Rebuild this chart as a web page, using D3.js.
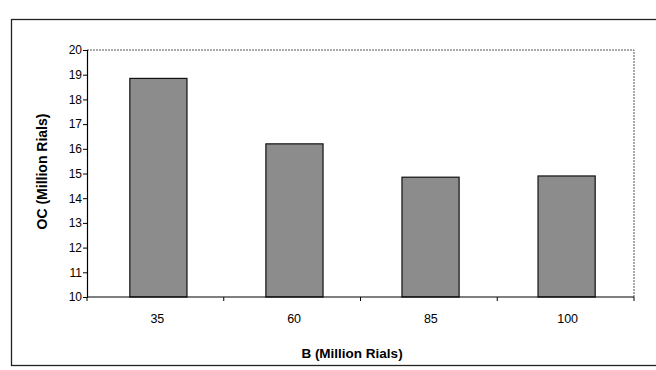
<!DOCTYPE html>
<html>
<head>
<meta charset="utf-8">
<script src="https://cdn.jsdelivr.net/npm/d3@7"></script>
<style>
  html, body { margin: 0; padding: 0; background: #fff; }
  svg { display: block; font-family: "Liberation Sans", Arial, sans-serif; }
</style>
</head>
<body>
<svg id="chart" width="656" height="370"></svg>
<script>
const categories = ["35", "60", "85", "100"];
const values = [18.85, 16.2, 14.85, 14.9];
const yTicks = [10, 11, 12, 13, 14, 15, 16, 17, 18, 19, 20];
const xTitle = "B (Million Rials)";
const yTitle = "OC (Million Rials)";

const svg = d3.select("#chart");
const W = 656, H = 370;
const plot = { left: 87, right: 634, top: 50, bottom: 297 };

// outer frame
svg.append("rect")
  .attr("x", 11.5).attr("y", 19.5)
  .attr("width", W + 10).attr("height", 346)
  .attr("fill", "none").attr("stroke", "#222").attr("stroke-width", 1.3);

const x = d3.scaleBand().domain(categories)
  .range([plot.left, plot.right]).paddingInner(0.58).paddingOuter(0.3);
const xb = d3.scaleBand().domain(categories).range([plot.left, plot.right]);
const y = d3.scaleLinear().domain([10, 20]).range([plot.bottom, plot.top]);

// plot area top/right dotted border
svg.append("path")
  .attr("d", `M${plot.left},${plot.top}H${plot.right}V${plot.bottom}`)
  .attr("fill", "none").attr("stroke", "#555").attr("stroke-width", 1)
  .attr("stroke-dasharray", "2,1");

// bars
svg.append("g").selectAll("rect").data(values).join("rect")
  .attr("x", (d, i) => x(categories[i]) + 2)
  .attr("y", d => y(d))
  .attr("width", x.bandwidth())
  .attr("height", d => y(10) - y(d))
  .attr("fill", "#8c8c8c")
  .attr("stroke", "#111").attr("stroke-width", 1.2);

// y axis
const yAxis = svg.append("g")
  .attr("transform", `translate(${plot.left},0)`)
  .call(d3.axisLeft(y).tickValues(yTicks).tickSize(4).tickPadding(1).tickFormat(d3.format("d")));
yAxis.select(".domain").attr("stroke", "#000").attr("stroke-width", 1.2);
yAxis.selectAll(".tick line").attr("stroke", "#000");
yAxis.selectAll("text").attr("font-size", 12).attr("fill", "#000")
  .attr("font-family", "Liberation Sans, Arial, sans-serif");

// x axis with ticks between categories
const xAxis = svg.append("g")
  .attr("transform", `translate(0,${plot.bottom})`);
xAxis.append("line")
  .attr("x1", plot.left).attr("x2", plot.right)
  .attr("stroke", "#000").attr("stroke-width", 1.2);
const boundaries = categories.map(c => xb(c)).concat([plot.right]);
xAxis.selectAll("line.tk").data(boundaries).join("line")
  .attr("class", "tk")
  .attr("x1", d => d).attr("x2", d => d)
  .attr("y1", 0).attr("y2", 4)
  .attr("stroke", "#000");
xAxis.selectAll("text").data(categories).join("text")
  .attr("x", d => xb(d) + xb.bandwidth() / 2 + 2)
  .attr("y", 26)
  .attr("text-anchor", "middle")
  .attr("font-size", 12.5).attr("fill", "#000")
  .text(d => d);

// axis titles
svg.append("text")
  .attr("x", 352).attr("y", 358)
  .attr("text-anchor", "middle")
  .attr("font-size", 13.5).attr("font-weight", "bold")
  .text(xTitle);
svg.append("text")
  .attr("transform", `translate(47,${(plot.top + plot.bottom) / 2 - 2}) rotate(-90)`)
  .attr("text-anchor", "middle")
  .attr("font-size", 14).attr("font-weight", "bold")
  .text(yTitle);
</script>
</body>
</html>
